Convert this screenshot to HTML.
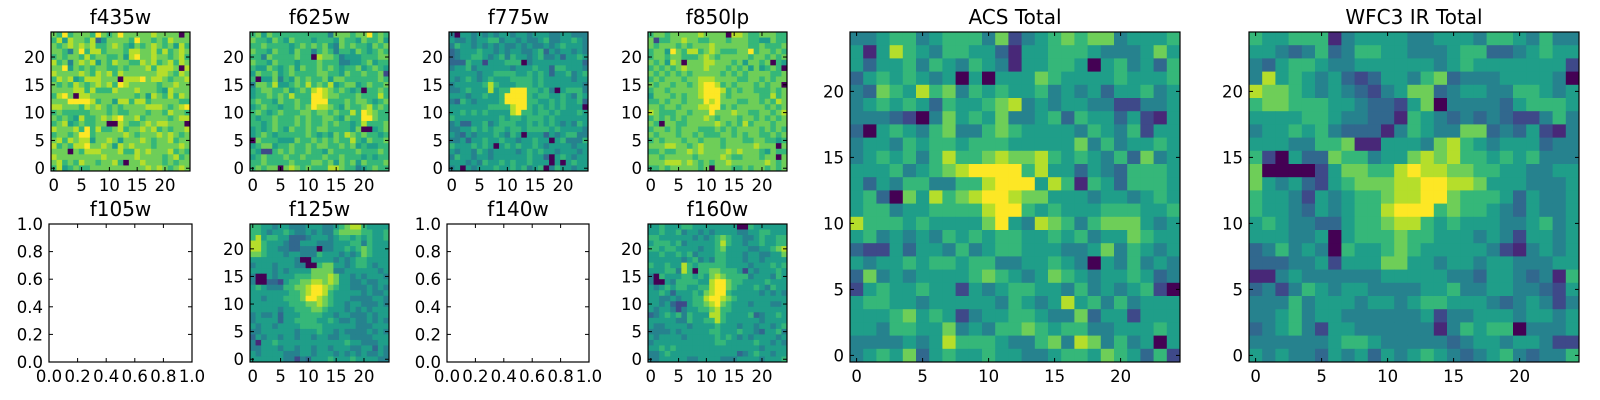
<!DOCTYPE html>
<html><head><meta charset="utf-8"><style>
html,body{margin:0;padding:0;background:#fff;}
svg{display:block;font-family:"DejaVu Sans","Liberation Sans",sans-serif;}
</style></head><body>
<svg id="fig" width="1600" height="400" viewBox="0 0 1600 400" xmlns="http://www.w3.org/2000/svg"></svg>
<script>
// ---- data: rows from top (y=24) to bottom (y=0), digits 0-9 = relative flux level ----
const tickValues = [0, 5, 10, 15, 20];
const emptyTickLabels = ["0.0","0.2","0.4","0.6","0.8","1.0"];
const panelTitles = ["f435w","f625w","f775w","f850lp","f105w","f125w","f140w","f160w","ACS Total","WFC3 IR Total"];
const f435w = ["7696777697679777778777707","6858776835777769776768777","7678787866787657678767586","7764796886777688778686787","6767768677667589778776786","8674787857687766878678687","7795767677667677786888708","8777787687868777777887687","6878568887770888978876778","7676876787869877777677877","7777886866687778777658777","6897088777777776758768687","7779999867758868867777766","8877768787676777788876789","6766666777676677767768776","7676586678789778677776788","6785676677008766787887770","8777869686678677878676778","6776799677777876777878767","7868788577875777876778677","8676889778758787776777787","7770768887778668787778676","8777777778777778777767867","7867687767786077877767677","6856766777777777787876787"];
const f625w = ["6757666666666647776779676","7665765766656665766576675","6676666567676754767665767","7665766576646764665765676","6647666676608776455566677","7665766656667666445567566","6557656757667676566756765","5766756766667766576676672","6055746576766757766666676","4776855676867685677567667","5677667567689876765606676","5667676866699877666766686","6766576676699966676776567","5676656676798876576678676","6765676667767767668698766","6566766676766776576699766","6656766676766767665686667","5656765766767766665700567","5676566666765657687676656","0766655576676767668657667","5677566766767766767565566","6522676766766576666766676","5676667667666766766656566","6676666766677675767576667","6767707876766688766456766"];
const f775w = ["4055454545545545554455444","5445455664554544564455654","4655454545445454454565554","3455565545455445635455454","3455665456465545644535565","3336552555666045555555553","4556455555545556553665554","5555545566665565653556456","5456545655566665655555455","4555556865556665655555554","4456555856699966564056664","5554556556999965665565465","4365455556999966556565563","5555555666689965656565550","5565656555589665665655565","6555555556566566656555555","4533556456665565656545465","4455656566566566665655554","5435455565465055535456644","4453556556554556550564446","6555656505656556545555455","5455465455554565655455545","4655455455555565530565455","5554546556565565550505655","4505455565565645604655455"];
const f850lp = ["6776777778777708876677766","7266778776677767776655766","7677767677787777776676667","6775976886787666779677676","6776776667876777776776767","7675870777887776757767065","6767678777877767675756760","7676767677777676767777667","6767776778887777667767677","7677677678998676777676770","6776777778999867677666767","5777676778999767777766867","6676776777989777667767687","7767767778899676777776767","8766677677797778776677678","6767676777876777677676767","7607766777778767686777677","6776767776667676777767676","7677767767666776767766767","6767776776777677766776656","7778877678777677777877707","6676677878777787877765766","7767777767777876677767707","7778887876767787777778767","6676777776707776676776767"];
const f125w = ["6655455444555445678865555","6654556544545446777766556","6856655333455545665656556","8865554335554445556646555","8865544334440445565676555","7765554554446555454576555","5555555540055554545665555","4555455544006775545665455","5555454555577774455555545","4005455566677787554545554","4003325667788787554454455","5654446677899876554445454","5555555667899865555545445","5545556667998765554444554","5555555666778765545544454","5555545566677655545454555","4544535556666554554445455","4555535566665565445445454","5455455556666555555444555","4455555545556554544445454","3545545545545544554444555","4155655555555555565544455","4455545545545545554455354","5455554445545554545454454","5555554424355565556555544"];
const f160w = ["5565556655555555006555555","5565564554545555445566555","6655555545456765544565566","5666564555556865545565566","6656655554556755554455678","5565565645556655545544557","5555554564546655545545555","6556558656666655554555656","5556648606677666525455565","4065556656578766664555465","4005466665589976655556555","5456566556689976555654655","5565355565789965555545454","5544545566899876555555555","5545322566789765554555445","5455424556678665555555555","3456564655588655556345565","5555544655668655555545555","5445555455556555455455456","4444545555566555655435564","5455554555556565454555545","4555555555556655555655454","5565655555555555555545555","4456555555555555345655455","4455555445555444555545556"];
const acsTotal = ["4456645666472456767745556","5158654665531556665444575","5355646546541556650564536","3565654505055576555565556","4376586746565564545355645","4565653655678454554422445","4443204756574456365535215","3056546744676555546546255","4554656656665555574645565","4565646866787786565463745","5556456789999685535436665","5354664466899958616536665","5630758678998775554554565","5664556666899656555666556","8666565555795487646777545","5645454656566556564557655","3225355464566555445746545","5455656656644556540546454","3745455556765457654556534","2565565525456655464545620","5665545555546545856464555","5556756524556654473552555","5546655745466765664455565","4444545866654467487464505","4565735655655445665765362"];
const wfc3Total = ["6556661455554455546654644","5543463466554445663345655","4356654455555545655555552","4856545323554673444555540","8776545432457734554466545","6776665543325704444356665","5555665443316543434322464","4556564333146544773435214","5554466711555478654555344","6205337664557878665656444","7000025776689887766554455","7545325677788998875554445","6554254566788997666535445","6554354566899967665435445","5654433566788656555445645","5554450566676655545425545","3464540655676555554214545","3334452555775545545544455","1145444444555554435543416","3424654554444556445544325","4446455545545665554345424","4456455444444524455545545","3456425544444414656604445","4444445665444443455455422","5454435453545654345643446"];

const viridis = ["#440154","#482878","#3e4989","#31688e","#26828e","#1f9e89","#35b779","#6ece58","#b5de2b","#fde725"];
const NS = "http://www.w3.org/2000/svg";
const svg = document.getElementById('fig');
function mk(tag, attrs, parent){const e=document.createElementNS(NS,tag);for(const k in attrs)e.setAttribute(k,attrs[k]);(parent||svg).appendChild(e);return e;}

// layout: [x, y, w, h, dataArray or null, titleIdx, tickFont]
const panels = [
  [51,32,139,139,f435w,0],[250,32,139,139,f625w,1],[449,32,139,139,f775w,2],[648,32,139,139,f850lp,3],
  [49,224,143,138,null,4],[250,224,139,138,f125w,5],[447,224,142,138,null,6],[648,224,139,138,f160w,7],
  [850,32,330,330,acsTotal,8],[1249,32,330,330,wfc3Total,9]
];

panels.forEach(function(p){
  const x=p[0],y=p[1],w=p[2],h=p[3],data=p[4],ti=p[5];
  const g=mk('g',{});
  
  
  const t=mk('text',{x:x+w/2,y:y-8,'text-anchor':'middle','font-size':20,fill:'#000'},g);
  t.textContent=panelTitles[ti];
  
  
  let sx, sy, ticks, labels;
  if(data){
    const n=data.length;
    sx=function(v){return x+(v+0.5)*w/n;};
    sy=function(v){return y+h-(v+0.5)*h/n;};
    const cw=w/n, ch=h/n;
    for(let r=0;r<n;r++){
      const row=data[r];
      for(let c=0;c<n;c++){
        const ch_=row.charAt(c);
        const lv=(ch_>='0'&&ch_<='9')?+ch_:5;
        const yy=n-1-r;
        const cell=mk('rect',{x:(sx(c-0.5)).toFixed(2),y:(sy(yy+0.5)).toFixed(2),width:(cw+0.4).toFixed(2),height:(ch+0.4).toFixed(2),fill:viridis[lv]},g);
        
        
      }
    }
    ticks=tickValues; labels=tickValues.map(String);
  } else {
    sx=function(v){return x+v*w;};
    sy=function(v){return y+h-v*h;};
    ticks=emptyTickLabels.map(Number); labels=emptyTickLabels;
  }
  const fr=mk('rect',{x:x,y:y,width:w,height:h,fill:'none',stroke:'#000','stroke-width':1.2},g);
  
  
  ticks.forEach(function(v,i){
    const px=sx(v), py=sy(v);
    mk('line',{x1:px,y1:y+h,x2:px,y2:y+h-4,stroke:'#000','stroke-width':1},g);
    mk('line',{x1:px,y1:y,x2:px,y2:y+4,stroke:'#000','stroke-width':1},g);
    mk('line',{x1:x,y1:py,x2:x+4,y2:py,stroke:'#000','stroke-width':1},g);
    mk('line',{x1:x+w,y1:py,x2:x+w-4,y2:py,stroke:'#000','stroke-width':1},g);
    const xl=mk('text',{x:px,y:y+h+20,'text-anchor':'middle','font-size':16.5,fill:'#000'},g);
    xl.textContent=labels[i];
    
    
    const yl=mk('text',{x:x-6,y:py+6,'text-anchor':'end','font-size':16.5,fill:'#000'},g);
    yl.textContent=labels[i];
    
    
  });
});
</script>
</body></html>
